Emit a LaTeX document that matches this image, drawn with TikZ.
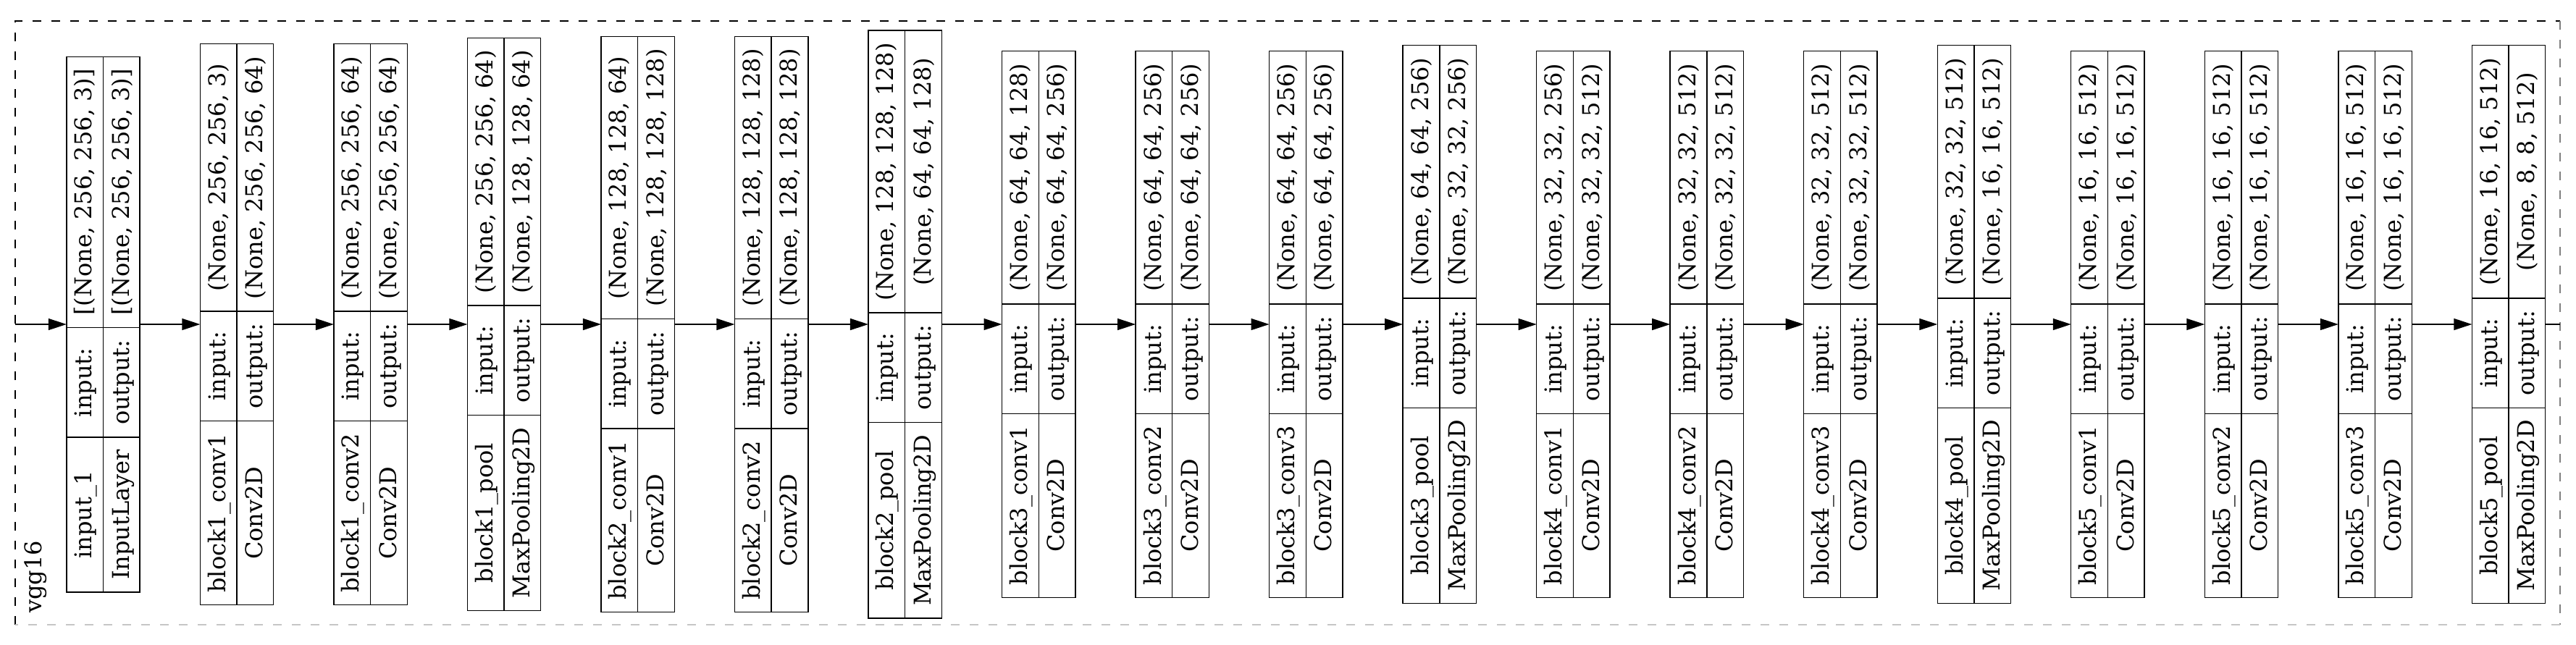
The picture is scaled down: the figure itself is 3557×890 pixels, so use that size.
\documentclass[tikz,border=0pt]{standalone}
\usepackage{fontspec}
\setmainfont{DejaVu Serif}
\usetikzlibrary{arrows.meta}
\newcommand{\layerrec}[4]{\setlength{\tabcolsep}{8.5pt}\setlength{\arrayrulewidth}{0.7pt}\renewcommand{\arraystretch}{1.302}\begin{tabular}{c|c|c}#1 & input: & #3\\\hline #2 & output: & #4\end{tabular}}
\begin{document}
\begin{tikzpicture}[x=0.5pt,y=-0.5pt,
  rec/.style={draw, line width=0.7pt, rotate=90, inner sep=0pt, outer sep=0pt, font=\fontsize{16}{19.2}\selectfont},
  edge/.style={line width=0.7pt, -{Triangle[length=12.5pt,width=8pt]}},
  cluster/.style={line width=0.8pt, dash pattern=on 6pt off 7pt}]
\useasboundingbox (0,0) rectangle (3557,890);
% cluster border
\draw[cluster] (20.7,863) -- (20.7,29) -- (3535,29);
\draw[cluster, gray] (3535,29) -- (3535,863);
\draw[cluster, gray!45] (3535,863) -- (20.7,863);
\node[rotate=90, font=\fontsize{16}{19.2}\selectfont, inner sep=0pt] (lbl) at (49,797) {vgg16};
% layers
\node[rec] (n1)  at (142.5+184.53*0,448)  {\layerrec{input\_1}{InputLayer}{[(None, 256, 256, 3)]}{[(None, 256, 256, 3)]}};
\node[rec] (n2)  at (142.5+184.53*1,448)  {\layerrec{block1\_conv1}{Conv2D}{(None, 256, 256, 3)}{(None, 256, 256, 64)}};
\node[rec] (n3)  at (142.5+184.53*2,448)  {\layerrec{block1\_conv2}{Conv2D}{(None, 256, 256, 64)}{(None, 256, 256, 64)}};
\node[rec] (n4)  at (142.5+184.53*3,448)  {\layerrec{block1\_pool}{MaxPooling2D}{(None, 256, 256, 64)}{(None, 128, 128, 64)}};
\node[rec] (n5)  at (142.5+184.53*4,448)  {\layerrec{block2\_conv1}{Conv2D}{(None, 128, 128, 64)}{(None, 128, 128, 128)}};
\node[rec] (n6)  at (142.5+184.53*5,448)  {\layerrec{block2\_conv2}{Conv2D}{(None, 128, 128, 128)}{(None, 128, 128, 128)}};
\node[rec] (n7)  at (142.5+184.53*6,448)  {\layerrec{block2\_pool}{MaxPooling2D}{(None, 128, 128, 128)}{(None, 64, 64, 128)}};
\node[rec] (n8)  at (142.5+184.53*7,448)  {\layerrec{block3\_conv1}{Conv2D}{(None, 64, 64, 128)}{(None, 64, 64, 256)}};
\node[rec] (n9)  at (142.5+184.53*8,448)  {\layerrec{block3\_conv2}{Conv2D}{(None, 64, 64, 256)}{(None, 64, 64, 256)}};
\node[rec] (n10) at (142.5+184.53*9,448)  {\layerrec{block3\_conv3}{Conv2D}{(None, 64, 64, 256)}{(None, 64, 64, 256)}};
\node[rec] (n11) at (142.5+184.53*10,448) {\layerrec{block3\_pool}{MaxPooling2D}{(None, 64, 64, 256)}{(None, 32, 32, 256)}};
\node[rec] (n12) at (142.5+184.53*11,448) {\layerrec{block4\_conv1}{Conv2D}{(None, 32, 32, 256)}{(None, 32, 32, 512)}};
\node[rec] (n13) at (142.5+184.53*12,448) {\layerrec{block4\_conv2}{Conv2D}{(None, 32, 32, 512)}{(None, 32, 32, 512)}};
\node[rec] (n14) at (142.5+184.53*13,448) {\layerrec{block4\_conv3}{Conv2D}{(None, 32, 32, 512)}{(None, 32, 32, 512)}};
\node[rec] (n15) at (142.5+184.53*14,448) {\layerrec{block4\_pool}{MaxPooling2D}{(None, 32, 32, 512)}{(None, 16, 16, 512)}};
\node[rec] (n16) at (142.5+184.53*15,448) {\layerrec{block5\_conv1}{Conv2D}{(None, 16, 16, 512)}{(None, 16, 16, 512)}};
\node[rec] (n17) at (142.5+184.53*16,448) {\layerrec{block5\_conv2}{Conv2D}{(None, 16, 16, 512)}{(None, 16, 16, 512)}};
\node[rec] (n18) at (142.5+184.53*17,448) {\layerrec{block5\_conv3}{Conv2D}{(None, 16, 16, 512)}{(None, 16, 16, 512)}};
\node[rec] (n19) at (142.5+184.53*18,448) {\layerrec{block5\_pool}{MaxPooling2D}{(None, 16, 16, 512)}{(None, 8, 8, 512)}};
% edges
\coordinate (in) at (20.7,448);
\coordinate (out) at (3535,448);
\draw[edge] (in) -- (n1.north);
\foreach \a/\b in {1/2,2/3,3/4,4/5,5/6,6/7,7/8,8/9,9/10,10/11,11/12,12/13,13/14,14/15,15/16,16/17,17/18,18/19}
  \draw[edge] (n\a.south) -- (n\b.north);
\draw[line width=0.7pt] (n19.south) -- (out);
\end{tikzpicture}
\end{document}
